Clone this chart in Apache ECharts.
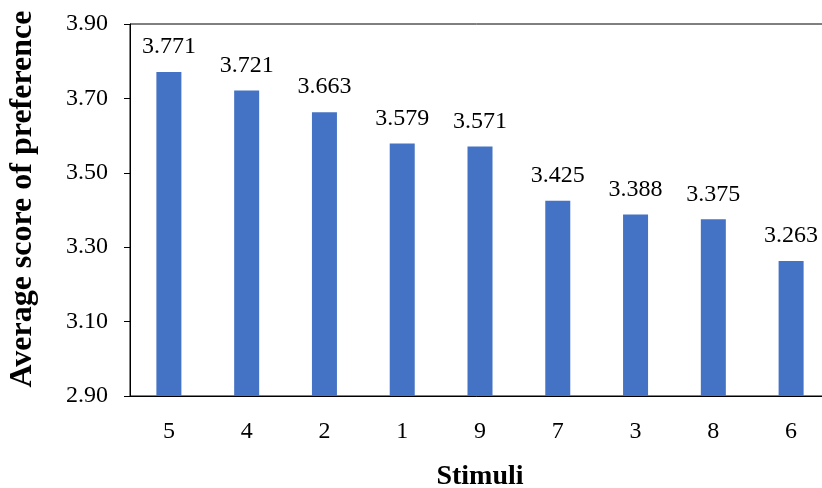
<!DOCTYPE html>
<html><head><meta charset="utf-8">
<script src="https://cdn.jsdelivr.net/npm/echarts@6/dist/echarts.min.js"></script>
<style>html,body{margin:0;padding:0;background:#fff}#c{width:822px;height:488px}</style>
</head><body><div id="c"></div>
<script>
const categories = ['5','4','2','1','9','7','3','8','6'];
const scores = [3.771,3.721,3.663,3.579,3.571,3.425,3.388,3.375,3.263];
const yTicks = [2.90,3.10,3.30,3.50,3.70,3.90];
const font = '"Liberation Serif","Times New Roman",serif';
const chart = echarts.init(document.getElementById('c'));
chart.setOption({
  animation:false,
  grid:{left:130,right:-8,top:24,bottom:92,containLabel:false,outerBoundsMode:'none',
    show:true,borderColor:'#000',borderWidth:1,backgroundColor:'transparent'},
  xAxis:{type:'category',data:categories,
    name:'Stimuli',nameLocation:'middle',nameGap:67,
    nameTextStyle:{fontFamily:font,fontSize:28,fontWeight:'bold',color:'#000'},
    axisLine:{lineStyle:{color:'#000',width:1}},
    axisTick:{alignWithLabel:true,length:6,lineStyle:{color:'#000'}},
    axisLabel:{fontFamily:font,fontSize:24,color:'#000',margin:24}},
  yAxis:{type:'value',min:2.9,max:3.9,interval:0.2,
    name:'Average score of preference',nameLocation:'middle',nameGap:91,
    nameTextStyle:{fontFamily:font,fontSize:32,fontWeight:'bold',color:'#000',padding:[0,0,0,22]},
    axisLine:{show:true,lineStyle:{color:'#000',width:1}},
    axisTick:{show:true,length:6,lineStyle:{color:'#000'}},
    splitLine:{show:false},
    axisLabel:{fontFamily:font,fontSize:24,color:'#000',margin:22,
      formatter:v=>v.toFixed(2)}},
  series:[{type:'bar',data:scores,barWidth:25,
    itemStyle:{color:'#4472C4'},
    label:{show:true,position:'top',distance:13,fontFamily:font,fontSize:24,color:'#000',
      formatter:p=>p.value.toFixed(3)}}]
});
</script></body></html>
